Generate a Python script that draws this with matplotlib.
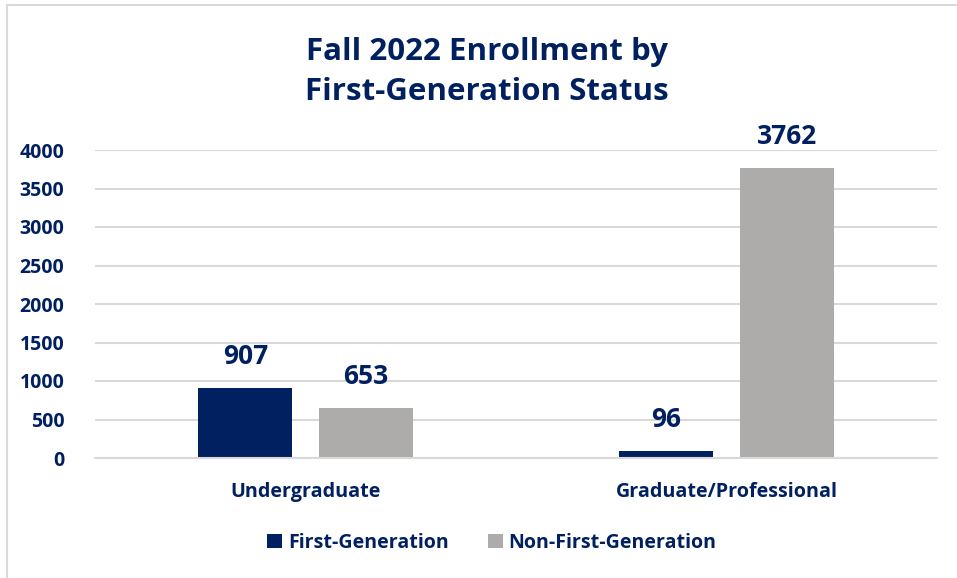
import numpy as np
import matplotlib.pyplot as plt
from matplotlib.patches import Rectangle

categories = ['Undergraduate', 'Graduate/Professional']
first_gen = [907, 96]
non_first_gen = [653, 3762]
series_names = ['First-Generation', 'Non-First-Generation']
yticks = [0, 500, 1000, 1500, 2000, 2500, 3000, 3500, 4000]

navy = '#002060'
gray = '#AEABAB'
plt.rcParams['font.family'] = ['Open Sans', 'DejaVu Sans']
plt.rcParams['font.weight'] = 'bold'

fig = plt.figure(figsize=(9.57, 5.78), dpi=100)
ax = fig.add_axes([95 / 957, 1 - 458 / 578, 842 / 957, 308 / 578])

x = np.arange(len(categories))
w = 0.223
off = 0.143
b1 = ax.bar(x - off, first_gen, w, color=navy, label=series_names[0])
b2 = ax.bar(x + off, non_first_gen, w, color=gray, label=series_names[1])

for bars in (b1, b2):
    for r in bars:
        ax.annotate(f'{int(r.get_height())}', (r.get_x() + r.get_width() / 2, r.get_height()),
                    xytext=(0, 13), textcoords='offset points', ha='center', va='bottom',
                    fontsize=19, fontweight='bold', color=navy)

ax.set_xlim(-0.5, 1.5)
ax.set_ylim(0, 4000)
ax.set_yticks(yticks)
ax.set_yticklabels([str(t) for t in yticks], fontsize=14, fontweight='bold', color=navy)
ax.set_xticks(x)
ax.set_xticklabels(categories, fontsize=14.2, fontweight='bold', color=navy)
ax.tick_params(axis='y', length=0, pad=22)
ax.tick_params(axis='x', length=0, pad=17)
ax.yaxis.grid(True, color='#D9D9D9', linewidth=1.5)
ax.set_axisbelow(True)
for s in ['top', 'right', 'left']:
    ax.spines[s].set_visible(False)
ax.spines['bottom'].set_color('#D9D9D9')
ax.spines['bottom'].set_linewidth(1.5)

fig.text(487 / 957, 1 - 72 / 578, 'Fall 2022 Enrollment by\nFirst-Generation Status',
         ha='center', va='center', fontsize=22.5, fontweight='bold', color=navy, linespacing=1.45)

leg = fig.legend(handles=[b1, b2], loc='center', bbox_to_anchor=(492 / 957, 1 - 543 / 578),
                 ncol=2, frameon=False, fontsize=14.1, handlelength=0.75, handleheight=0.75,
                 handletextpad=0.3, columnspacing=2.0)
for t in leg.get_texts():
    t.set_color(navy)

# chart area border (only top and left edges visible)
fig.patches.append(Rectangle((6.5 / 957, -0.1), 1.2, 1 - 5.5 / 578 + 0.1, transform=fig.transFigure,
                             fill=False, edgecolor='#D9D9D9', linewidth=1.5))

fig.savefig('out.png', dpi=100)
